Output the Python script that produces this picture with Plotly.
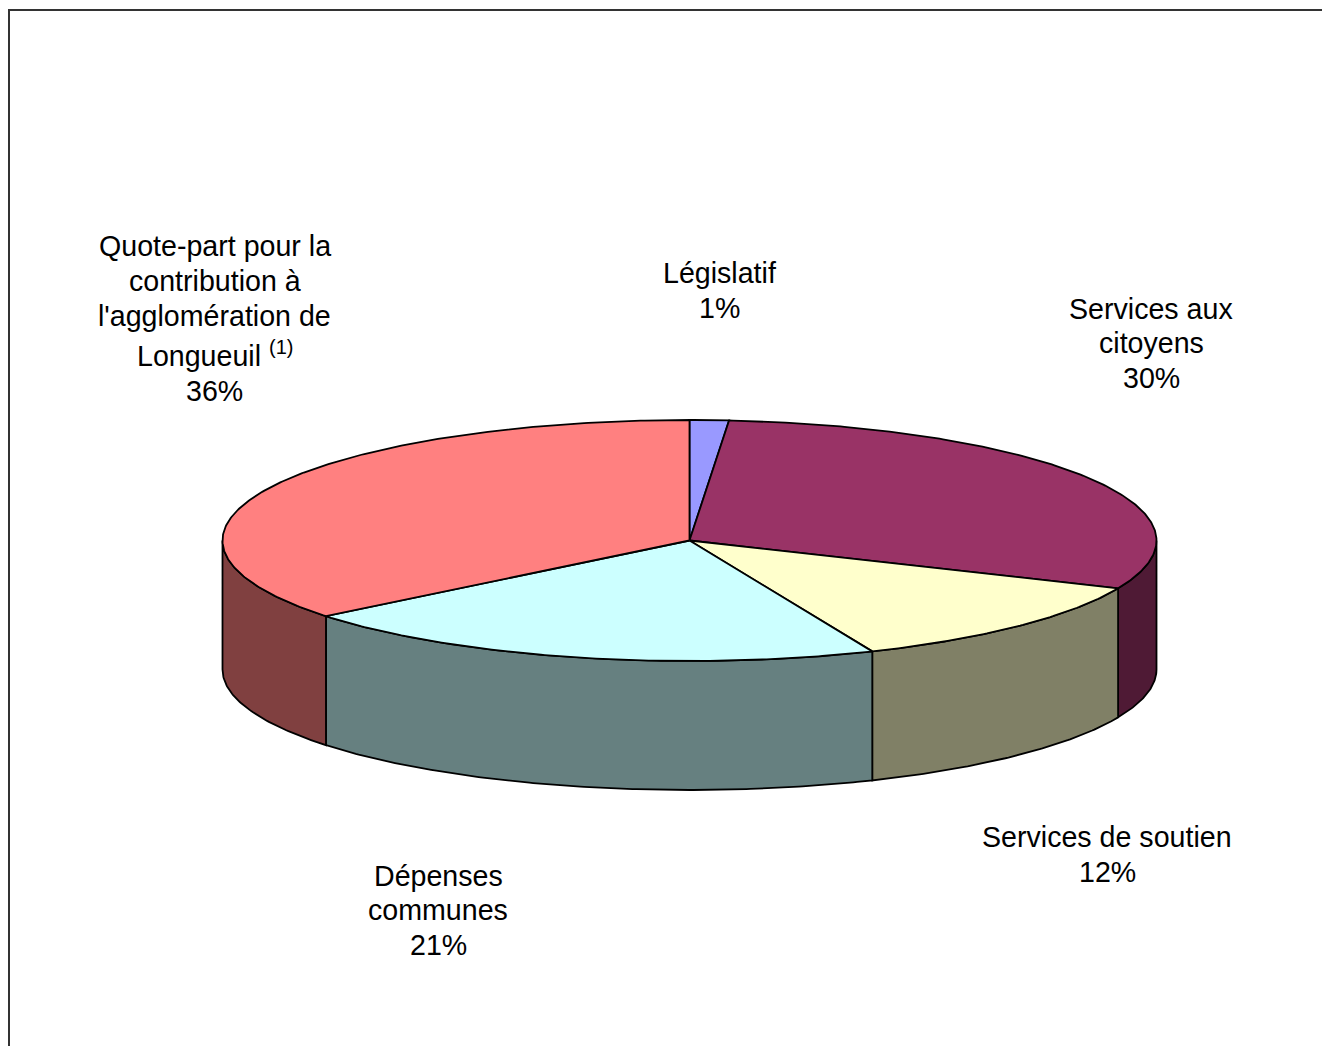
import math
import plotly.graph_objects as go

CATEGORIES = ["Législatif", "Services aux citoyens", "Services de soutien", "Dépenses communes",
              "Quote-part pour la contribution à l'agglomération de Longueuil"]
VALUES = [1.35, 30.15, 12.1, 20.6, 35.8]
TOP_COLORS = ["#9999ff", "#993366", "#ffffcc", "#ccffff", "#ff8080"]
SIDE_COLORS = ["#606099", "#4f1a35", "#808066", "#668080", "#804040"]
LABEL_LINES = [
    ["Législatif"],
    ["Services aux", "citoyens"],
    ["Services de soutien"],
    ["Dépenses", "communes"],
    ["Quote-part pour la", "contribution à", "l'agglomération de", "Longueuil <sup>(1)</sup>"],
]
LABEL_X = [719.5, 1151, 1107, 438, 214.5]
LABEL_Y = [
    [273, 308],
    [309, 343, 378],
    [837, 872],
    [876, 910, 945],
    [246, 281, 316, 354, 391],
]

CX, CY, RX, RY, DEPTH = 689.5, 540.5, 467, 120.5, 129
STEP = 0.5
FONT_SIZE = 28.6
OUTLINE = 1.8


def pt(t):
    a = math.radians(t)
    return CX + RX * math.sin(a), CY - RY * math.cos(a)


def arc(a, b):
    n = max(2, int(abs(b - a) / STEP) + 1)
    return [pt(a + (b - a) * i / (n - 1)) for i in range(n)]


fig = go.Figure()
total = sum(VALUES)
edges = [0]
for v in VALUES:
    edges.append(edges[-1] + v / total * 360)


def poly(points, fill):
    fig.add_trace(go.Scatter(x=[p[0] for p in points], y=[p[1] for p in points], mode="lines",
                             fill="toself", fillcolor=fill, line=dict(color="#000000", width=OUTLINE),
                             hoverinfo="skip", showlegend=False))


# side walls: only the front half (90..270 deg) is visible
for i in range(len(VALUES)):
    a, b = max(edges[i], 90), min(edges[i + 1], 270)
    if a < b:
        top = arc(a, b)
        bottom = [(x, y + DEPTH) for x, y in reversed(top)]
        poly(top + bottom + [top[0]], SIDE_COLORS[i])

# top faces
for i in range(len(VALUES)):
    poly([(CX, CY)] + arc(edges[i], edges[i + 1]) + [(CX, CY)], TOP_COLORS[i])

# labels: one annotation per line, the last line being the rounded percentage
for i in range(len(VALUES)):
    lines = LABEL_LINES[i] + [f"{round(VALUES[i])}%"]
    for text, y in zip(lines, LABEL_Y[i]):
        fig.add_annotation(x=LABEL_X[i], y=y, xref="x", yref="y", text=text, showarrow=False,
                           xanchor="center", yanchor="middle", align="center",
                           font=dict(family="Liberation Sans", size=FONT_SIZE, color="#000000"))

# page frame
fig.add_shape(type="line", xref="x", yref="y", x0=9, y0=10, x1=1322, y1=10, line=dict(color="#333333", width=2))
fig.add_shape(type="line", xref="x", yref="y", x0=9, y0=9, x1=9, y1=1046, line=dict(color="#333333", width=2))

fig.update_layout(width=1322, height=1046, margin=dict(l=0, r=0, t=0, b=0),
                  paper_bgcolor="#ffffff", plot_bgcolor="#ffffff", showlegend=False)
fig.update_xaxes(range=[0, 1322], visible=False, fixedrange=True)
fig.update_yaxes(range=[1046, 0], visible=False, fixedrange=True)

fig.write_html("out.html", config={"displayModeBar": False},
               post_script="document.body.style.margin='0';document.body.style.overflow='hidden';")
